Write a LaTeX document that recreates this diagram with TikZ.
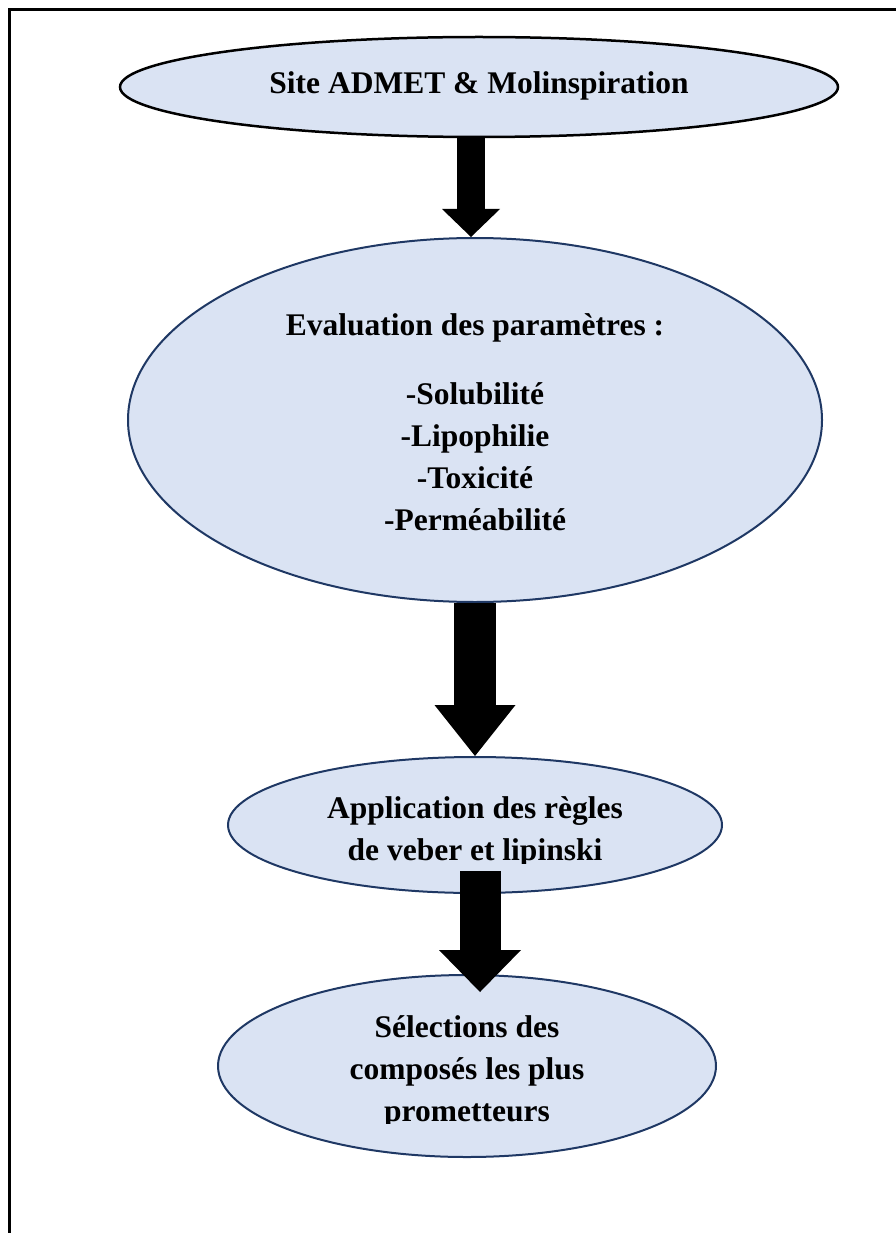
\documentclass[tikz,border=0pt]{standalone}
\usepackage{fontspec}
\setmainfont{Liberation Serif}
\usetikzlibrary{shapes.geometric,arrows.meta}
\definecolor{efill}{HTML}{DAE3F3}
\definecolor{eline}{HTML}{1F3864}
\begin{document}
\begin{tikzpicture}[x=1pt,y=-1pt,
  ell/.style={ellipse, fill=efill, draw=eline, line width=2pt, inner sep=0pt,
    align=center, font=\fontsize{31.5}{42}\selectfont\bfseries},
  txt/.style={inner sep=0pt, align=center, font=\fontsize{31.5}{42}\selectfont\bfseries},
  blockarrow/.style n args={3}{draw=black, line width=#1, line cap=butt,
    -{Triangle[width=#2, length=#3, line width=0pt]}}]
\useasboundingbox (0,0) rectangle (895,1233);
\draw[line width=3pt] (9,1240) -- (9,10) -- (900,10);
% ellipses
\node[ell, draw=black, line width=2.5pt, minimum width=718pt, minimum height=100pt] (e1) at (479,87) {};
\node[ell, minimum width=694pt, minimum height=364pt] (e2) at (475,420) {};
\node[ell, minimum width=494pt, minimum height=136pt] (e3) at (475,825) {};
\node[ell, minimum width=498pt, minimum height=182pt] (e4) at (467,1066) {};
% texts
\node[txt] (t1) at (479,86) {Site ADMET \& Molinspiration};
\node[txt] (t2) at (475,422) {Evaluation des paramètres :\\[27pt]-Solubilité\\-Lipophilie\\-Toxicité\\-Perméabilité};
\begin{scope}
\clip (200,760) rectangle (750,863);
\node[txt] (t3) at (475,832) {Application des règles\\de veber et lipinski};
\end{scope}
\begin{scope}
\clip (200,980) rectangle (750,1123);
\node[txt] (t4) at (467,1072) {Sélections des\\composés les plus\\prometteurs};
\end{scope}
% arrows
\draw[blockarrow={28pt}{58pt}{28pt}] ([xshift=-8pt]e1.south) -- ([xshift=-4pt]e2.north);
\draw[blockarrow={42pt}{81pt}{51pt}] (e2.south) -- (e3.north);
\draw[blockarrow={41pt}{82pt}{42pt}] ([xshift=5pt,yshift=23pt]e3.south) -- ([xshift=13pt,yshift=-18pt]e4.north);
\end{tikzpicture}
\end{document}
